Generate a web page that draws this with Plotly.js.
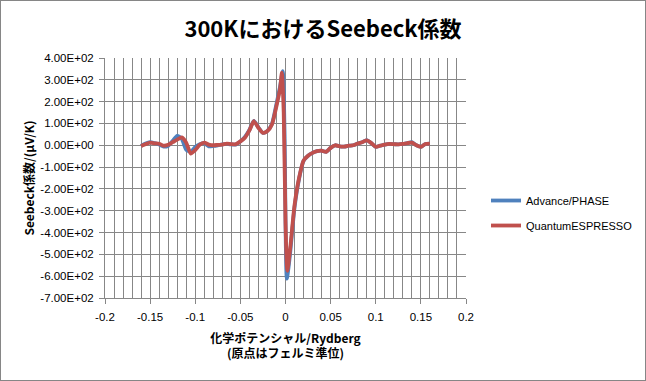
<!DOCTYPE html>
<html>
<head>
<meta charset="utf-8">
<script src="https://cdn.plot.ly/plotly-3.0.1.min.js"></script>
<style>
html,body{margin:0;padding:0;background:#fff;}
#frame{position:absolute;left:0;top:0;width:644px;height:379px;border:1px solid #868686;}
#chart{width:644px;height:379px;}
</style>
</head>
<body>
<div id="frame"><div id="chart"></div></div>
<script>
// Advance/PHASE
const xAdvance = [-0.16,-0.155,-0.15,-0.145,-0.14,-0.135,-0.13,-0.125,-0.12,-0.115,-0.11,-0.105,-0.10,-0.095,-0.09,-0.085,-0.08,-0.075,-0.07,-0.065,-0.06,-0.055,-0.05,-0.045,-0.04,-0.035,-0.03,-0.025,-0.02,-0.015,-0.01,-0.006,-0.003,-0.001,0.0015,0.005,0.01,0.015,0.02,0.025,0.03,0.035,0.04,0.045,0.05,0.055,0.06,0.065,0.07,0.075,0.08,0.085,0.09,0.095,0.10,0.105,0.11,0.115,0.12,0.125,0.13,0.135,0.14,0.145,0.15,0.155,0.16];
const yAdvance = [-3,8,14,10,4,-6,-2,20,43,30,-20,-30,-8,5,10,-5,-3,0,4,6,4,3,18,38,70,112,82,57,66,98,190,270,340,50,-611,-500,-285,-155,-72,-48,-35,-27,-25,-30,-12,0,-5,-6,-2,0,8,14,24,10,-7,-2,3,6,5,4,6,10,14,0,-7,6,8];
// QuantumESPRESSO
const xQE = [-0.16,-0.155,-0.15,-0.145,-0.14,-0.135,-0.13,-0.125,-0.12,-0.115,-0.11,-0.105,-0.10,-0.095,-0.09,-0.085,-0.08,-0.075,-0.07,-0.065,-0.06,-0.055,-0.05,-0.045,-0.04,-0.035,-0.03,-0.025,-0.02,-0.015,-0.01,-0.006,-0.004,-0.002,0.0,0.002,0.005,0.01,0.015,0.02,0.025,0.03,0.035,0.04,0.045,0.05,0.055,0.06,0.065,0.07,0.075,0.08,0.085,0.09,0.095,0.10,0.105,0.11,0.115,0.12,0.125,0.13,0.135,0.14,0.145,0.15,0.155,0.16];
const yQE = [-3,5,12,9,7,-2,2,14,26,36,12,-38,-22,2,12,3,0,2,3,8,5,5,18,35,68,110,80,57,65,95,180,260,333,150,-350,-575,-480,-275,-150,-70,-48,-35,-27,-25,-30,-12,0,-5,-6,-2,0,8,14,22,10,-7,-2,3,6,5,4,6,10,12,0,-7,6,8];

const xTickVals = [-0.2,-0.15,-0.1,-0.05,0,0.05,0.1,0.15,0.2];
const xTickText = ["-0.2","-0.15","-0.1","-0.05","0","0.05","0.1","0.15","0.2"];
const yTickVals = [400,300,200,100,0,-100,-200,-300,-400,-500,-600,-700];
const yTickText = ["4.00E+02","3.00E+02","2.00E+02","1.00E+02","0.00E+00","-1.00E+02","-2.00E+02","-3.00E+02","-4.00E+02","-5.00E+02","-6.00E+02","-7.00E+02"];

const gridCol = '#878787';
const tickFont = {family:'Liberation Sans, Arial, sans-serif', size:11.5, color:'#000'};

const traces = [
  {x:xAdvance, y:yAdvance, name:'Advance/PHASE', mode:'lines', legendgroup:'a',
   line:{color:'#4F81BD', width:3.8, shape:'spline', smoothing:0.6}},
  {x:xQE, y:yQE, name:'QuantumESPRESSO', mode:'lines', legendgroup:'b',
   line:{color:'#C0504D', width:3.8, shape:'spline', smoothing:0.6}}
];

const layout = {
  width:644, height:379,
  margin:{l:104, r:179, t:57, b:82, pad:0, autoexpand:false},
  paper_bgcolor:'#fff', plot_bgcolor:'#fff',
  title:{text:'300KにおけるSeebeck係数', x:0.5, xref:'container', xanchor:'center', y:0.925, yref:'container', yanchor:'middle',
         font:{family:'Noto Sans CJK JP, sans-serif', size:22, color:'#000', weight:'bold'}},
  xaxis:{range:[-0.2,0.2], tickvals:xTickVals, ticktext:xTickText, tickfont:tickFont,
         showgrid:true, gridcolor:gridCol, gridwidth:1, zeroline:false,
         minor:{dtick:0.01, tick0:0, showgrid:true, gridcolor:gridCol, gridwidth:1, ticks:''},
         showline:true, linecolor:gridCol, linewidth:1, ticks:'outside', ticklen:5, tickcolor:gridCol,
         ticklabelstandoff:3, automargin:false,
         title:{text:'<b>化学ポテンシャル/Rydberg<br>(原点はフェルミ準位)</b>', standoff:12,
                font:{family:'Noto Sans CJK JP, sans-serif', size:12, color:'#000'}}},
  yaxis:{range:[-700,400], tickvals:yTickVals, ticktext:yTickText, tickfont:tickFont,
         showgrid:true, gridcolor:gridCol, gridwidth:1, zeroline:false,
         showline:true, linecolor:gridCol, linewidth:1, ticks:'outside', ticklen:5, tickcolor:gridCol,
         ticklabelstandoff:3, automargin:false,
         title:{text:'<b>Seebeck係数/(μV/K)</b>', standoff:3,
                font:{family:'Noto Sans CJK JP, sans-serif', size:12, color:'#000'}}},
  showlegend:true,
  legend:{xref:'container', yref:'container', x:0.7531, xanchor:'left', y:0.4406, yanchor:'middle', tracegroupgap:6,
          font:{family:'Liberation Sans, Arial, sans-serif', size:11, color:'#000'},
          bgcolor:'rgba(0,0,0,0)'}
};

Plotly.newPlot('chart', traces, layout, {displayModeBar:false, staticPlot:true});
</script>
</body>
</html>
